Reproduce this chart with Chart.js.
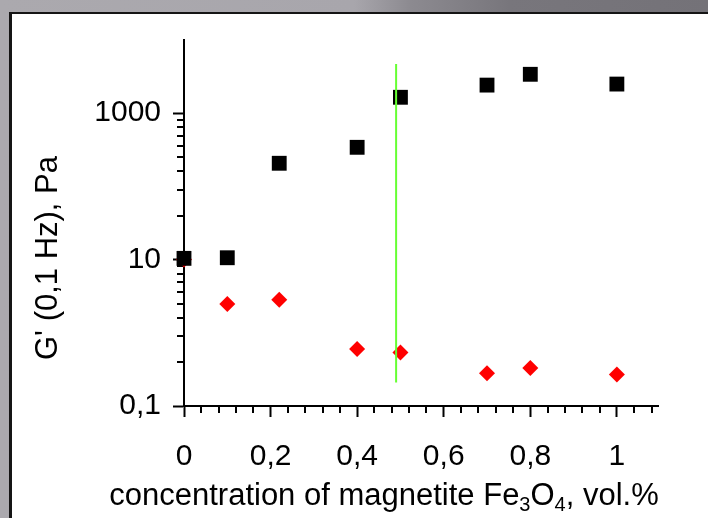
<!DOCTYPE html>
<html>
<head>
<meta charset="utf-8">
<script src="https://cdn.jsdelivr.net/npm/chart.js@4.4.1/dist/chart.umd.min.js"></script>
<style>
  html,body{margin:0;padding:0;width:708px;height:518px;overflow:hidden}
  body{background:linear-gradient(to right,#aba9ae 0%,#a8a6ac 50%,#8c8a90 58%,#78767c 72%,#747278 100%);position:relative}
  #panel{position:absolute;left:9px;top:12px;width:800px;height:600px;background:#fff;border-left:3px solid #151515;border-top:2px solid #151515}
  #wrap{position:absolute;left:0;top:0;width:708px;height:518px}
</style>
</head>
<body>
<div id="panel"></div>
<div id="wrap"><canvas id="c" width="708" height="518"></canvas></div>
<script>
// data
const conc = [0, 0.1, 0.22, 0.4, 0.5, 0.7, 0.8, 1];
const gBlack = [10.4, 10.6, 207, 342, 1650, 2420, 3400, 2500];
const gRed = [10, 2.47, 2.83, 0.6, 0.54, 0.28, 0.33, 0.27];
const markerX = [0.49, 0.49];
const markerY = [4700, 0.21];

const xTicks = [0, 0.2, 0.4, 0.6, 0.8, 1];
const xMinor = [0.04,0.08,0.12,0.16,0.24,0.28,0.32,0.36,0.44,0.48,0.52,0.56,0.64,0.68,0.72,0.76,0.84,0.88,0.92,0.96,1.04,1.08];
const yTicks = [0.1, 10, 1000];
const yTickLabels = ['0,1', '10', '1000'];
const yMinor = [0.4,0.9,1.6,2.5,3.6,4.9,6.4,8.1,40,90,160,250,360,490,640,810];

const FONT = "'Liberation Sans', Arial, sans-serif";

function pts(xs, ys){ return xs.map((x,i)=>({x:x, y:ys[i]})) }

// small ticks and the axis titles
const extras = {
  id:'extras',
  beforeDatasetsDraw(chart){
    const ctx = chart.ctx, x = chart.scales.x, y = chart.scales.y;
    ctx.save();
    ctx.strokeStyle = '#000'; ctx.lineWidth = 2;
    ctx.beginPath();
    xMinor.forEach(v=>{ const px = Math.round(x.getPixelForValue(v)); ctx.moveTo(px, y.bottom); ctx.lineTo(px, y.bottom+7); });
    yMinor.forEach(v=>{ const py = Math.round(y.getPixelForValue(v)); ctx.moveTo(x.left, py); ctx.lineTo(x.left-7, py); });
    ctx.stroke();

    ctx.fillStyle = '#000';
    // y title
    ctx.save();
    ctx.translate(57, 258);
    ctx.rotate(-Math.PI/2);
    ctx.font = '31px ' + FONT;
    ctx.textAlign = 'center'; ctx.textBaseline = 'alphabetic';
    ctx.fillText("G' (0,1 Hz), Pa", 0, 0);
    ctx.restore();

    // x title with subscripts
    const parts = [['concentration of magnetite Fe',0],['3',1],['O',0],['4',1],[', vol.%',0]];
    const big = '31px ' + FONT, small = '20px ' + FONT;
    let w = 0;
    parts.forEach(p=>{ ctx.font = p[1] ? small : big; w += ctx.measureText(p[0]).width; });
    let cx = 384 - w/2;
    ctx.textAlign = 'left'; ctx.textBaseline = 'alphabetic';
    parts.forEach(p=>{
      ctx.font = p[1] ? small : big;
      ctx.fillText(p[0], cx, p[1] ? 511 : 505);
      cx += ctx.measureText(p[0]).width;
    });
    ctx.restore();
  }
};

new Chart(document.getElementById('c'), {
  type:'scatter',
  data:{
    datasets:[
      {type:'line', data:pts(markerX, markerY), borderColor:'#66ff33', borderWidth:2, pointRadius:0, clip:false},
      {data:pts(conc, gBlack), pointStyle:'rect', pointRadius:10.5, backgroundColor:'#000', borderColor:'#000', borderWidth:0, clip:false},
      {data:pts(conc, gRed), pointStyle:'rectRot', pointRadius:8, backgroundColor:'#ff0000', borderColor:'#ff0000', borderWidth:0, clip:false}
    ]
  },
  options:{
    responsive:false, animation:false, devicePixelRatio:1,
    layout:{padding:{top:40, right:50, left:0, bottom:0}},
    plugins:{legend:{display:false}, tooltip:{enabled:false}},
    scales:{
      x:{
        type:'linear', min:0, max:1.095,
        afterBuildTicks: s=>{ s.ticks = xTicks.map(v=>({value:v})) },
        afterFit: s=>{ s.height = 112 },
        border:{color:'#000', width:2},
        grid:{drawOnChartArea:false, tickLength:11, tickWidth:2, tickColor:'#000'},
        ticks:{color:'#000', padding:22, maxRotation:0, autoSkip:false,
          font:{family:FONT, size:30},
          callback: v=>String(v).replace('.', ',')}
      },
      y:{
        type:'logarithmic', min:0.1, max:10000,
        afterBuildTicks: s=>{ s.ticks = yTicks.map(v=>({value:v})) },
        afterFit: s=>{ s.width = 184 },
        border:{color:'#000', width:2},
        grid:{drawOnChartArea:false, tickLength:11, tickWidth:2, tickColor:'#000'},
        ticks:{color:'#000', padding:12, autoSkip:false,
          font:{family:FONT, size:30},
          callback: v=>{ const i = yTicks.indexOf(v); return i < 0 ? '' : yTickLabels[i] }}
      }
    }
  },
  plugins:[extras]
});
</script>
</body>
</html>
